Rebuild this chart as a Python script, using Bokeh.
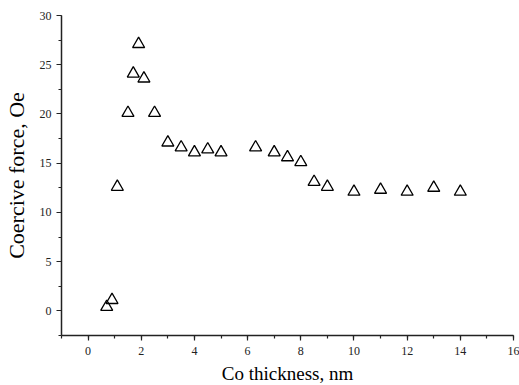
from bokeh.plotting import figure
from bokeh.models import SingleIntervalTicker
from bokeh.embed import file_html
from bokeh.resources import INLINE

thickness = [0.7, 0.9, 1.1, 1.5, 1.7, 1.9, 2.1, 2.5, 3.0, 3.5, 4.0, 4.5, 5.0,
             6.3, 7.0, 7.5, 8.0, 8.5, 9.0, 10, 11, 12, 13, 14]
coercive = [0.4, 1.1, 12.6, 20.1, 24.1, 27.1, 23.6, 20.1, 17.1, 16.6, 16.1, 16.4, 16.1,
            16.6, 16.1, 15.6, 15.1, 13.1, 12.6, 12.1, 12.3, 12.1, 12.5, 12.1]

FONT = "Liberation Serif"

p = figure(frame_width=452, frame_height=320,
           x_range=(-1, 16), y_range=(-2.5, 30),
           output_backend="svg", toolbar_location=None,
           min_border_left=53, min_border_right=6, min_border_top=15, min_border_bottom=45)

p.scatter(thickness, coercive, marker="triangle", size=12,
          fill_color="white", fill_alpha=0, line_color="black", line_width=1.3)

p.xgrid.visible = False
p.ygrid.visible = False
p.outline_line_color = None

xax = p.xaxis[0]
yax = p.yaxis[0]
xax.ticker = SingleIntervalTicker(interval=2, num_minor_ticks=2)
yax.ticker = SingleIntervalTicker(interval=5, num_minor_ticks=2)

for ax in (xax, yax):
    ax.axis_line_color = "#222222"
    ax.axis_line_width = 1.5
    ax.major_tick_line_color = "#222222"
    ax.minor_tick_line_color = "#222222"
    ax.major_tick_line_width = 1.2
    ax.minor_tick_line_width = 1.2
    ax.major_tick_out = 5
    ax.major_tick_in = 0
    ax.minor_tick_out = 3
    ax.minor_tick_in = 0
    ax.major_label_text_font = "Times New Roman"
    ax.major_label_text_font_size = "12px"
    ax.major_label_text_color = "#222222"
    ax.axis_label_text_font = FONT
    ax.axis_label_text_font_style = "normal"
    ax.axis_label_text_color = "black"

xax.axis_label = "Co thickness, nm"
yax.axis_label = "Coercive force, Oe"
xax.axis_label_text_font_size = "19px"
yax.axis_label_text_font_size = "22px"
xax.major_label_standoff = 6
yax.major_label_standoff = 5
xax.axis_label_standoff = 5
yax.axis_label_standoff = 8

open("out.html", "w").write(file_html(p, INLINE))
